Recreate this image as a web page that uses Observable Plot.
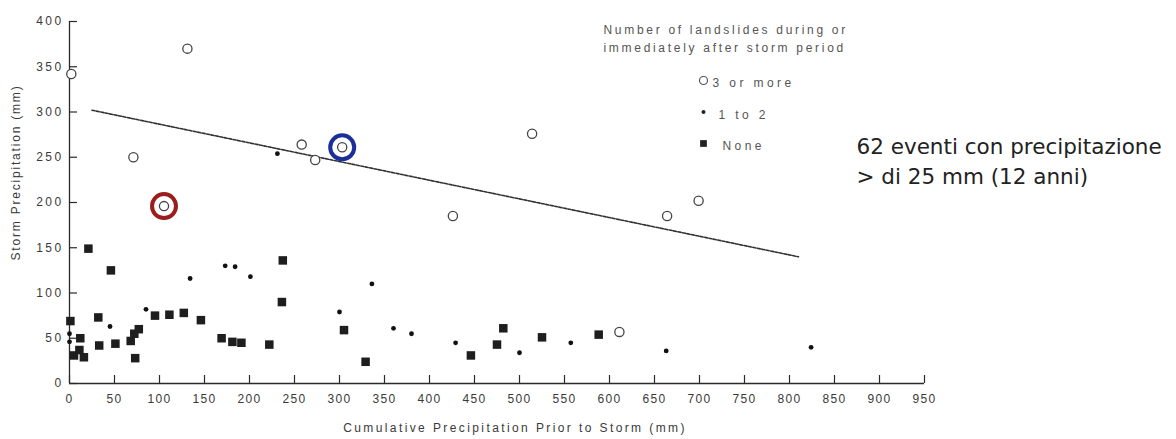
<!DOCTYPE html>
<html><head><meta charset="utf-8">
<script src="https://cdn.jsdelivr.net/npm/d3@7"></script>
<script src="https://cdn.jsdelivr.net/npm/@observablehq/plot@0.6"></script>
<style>
body{margin:0;background:#fff;}
#chart svg{display:block;}
</style></head><body><div id="chart"></div>
<script>
// ---- data ----
const xTicks = [0,50,100,150,200,250,300,350,400,450,500,550,600,650,700,750,800,850,900,950];
const yTicks = [0,50,100,150,200,250,300,350,400];

// 3 or more landslides (open circles)
const manyX = [2,131,71,105,258,273,303,426,514,664,699,611];
const manyY = [342,370,250,196,264,247,261,185,276,185,202,57];

// 1 to 2 landslides (small dots)
const fewX = [231,134,173,184,201,336,300,360,380,429,500,557,663,824,45,85,0,0];
const fewY = [254,116,130,129,118,110,79,61,55,45,34,45,36,40,63,82,55,46];

// None (squares)
const noneX = [21,46,1,32,33,51,12,11,16,5,68,72,77,73,95,111,127,146,169,181,191,222,237,236,305,329,446,475,482,525,588];
const noneY = [149,125,69,73,42,44,50,37,29,31,47,55,60,28,75,76,78,70,50,46,45,43,136,90,59,24,31,43,61,51,54];

// threshold line
const trendX = [25,810];
const trendY = [302,140];

// highlighted events
const hiX = [105,303];
const hiY = [196,261];
const hiColor = ["#9b1d1d","#1c2f98"];

const legendTitle = ["Number of landslides during or","immediately after storm period"];
const legendLabels = ["3 or more","1 to 2","None"];
const xLabel = "Cumulative Precipitation Prior to Storm (mm)";
const yLabel = "Storm Precipitation (mm)";
const note = ["62 eventi con precipitazione","> di 25 mm (12 anni)"];

// ---- build ----
const rows = (xs, ys) => xs.map((x,i)=>({x, y: ys[i]}));
const many = rows(manyX, manyY), few = rows(fewX, fewY), none = rows(noneX, noneY);
const trend = rows(trendX, trendY);
const hi = hiX.map((x,i)=>({x, y: hiY[i], c: hiColor[i]}));

const W=1176, H=439, ML=69, MR=252, MT=21, MB=56;
const FW = W-ML-MR, FH = H-MT-MB;
const ink = "#2a2a2a", txt = "#3a3a3a", leg = "#555";
const tl = (text, dx, dy, o={}) => Plot.text([text], {frameAnchor: "top-left", textAnchor: "start", dx, dy, fontSize: 12, fill: leg, ...o});

const chart = Plot.plot({
  width: W, height: H,
  marginLeft: ML, marginRight: MR, marginTop: MT, marginBottom: MB,
  style: {fontFamily: "'Liberation Sans', Arial, sans-serif", background: "#fff", color: txt},
  x: {domain: [0,950]},
  y: {domain: [0,400]},
  marks: [
    Plot.ruleY([0], {stroke: ink, strokeWidth: 1.3}),
    Plot.ruleX([0], {stroke: ink, strokeWidth: 1.3}),
    Plot.tickX(xTicks, {x: d=>d, stroke: ink, strokeWidth: 1.2, insetTop: FH-8}),
    Plot.tickY(yTicks, {y: d=>d, stroke: ink, strokeWidth: 1.2, insetRight: FW-8}),
    Plot.axisX({ticks: xTicks, tickSize: 0, tickPadding: 11, label: null, fontSize: 12, fill: txt}),
    Plot.axisY({ticks: yTicks, tickSize: 0, tickPadding: 6, label: null, fontSize: 12, fill: txt}),
    Plot.text([xLabel], {frameAnchor: "bottom", dx: 18, dy: 48, fontSize: 12, fill: txt}),
    Plot.text([yLabel], {frameAnchor: "left", textAnchor: "middle", rotate: -90, dx: -53, dy: -30, fontSize: 12, fill: txt}),
    Plot.line(trend, {x: "x", y: "y", stroke: "#333", strokeWidth: 1.6, strokeDasharray: "3,1.5"}),
    Plot.dot(none, {x: "x", y: "y", symbol: "square", r: 4.8, fill: "#1e1e1e"}),
    Plot.dot(few, {x: "x", y: "y", symbol: "circle", r: 2.4, fill: "#111"}),
    Plot.dot(many, {x: "x", y: "y", symbol: "circle", r: 4.6, fill: "#fff", stroke: "#444", strokeWidth: 1.3}),
    Plot.dot(hi, {x: "x", y: "y", r: 12, stroke: "c", strokeWidth: 4, fill: "none"}),
    // legend
    tl(legendTitle[0], 534, 4),
    tl(legendTitle[1], 534, 22),
    tl(legendLabels[0], 643, 57),
    tl(legendLabels[1], 649, 89),
    tl(legendLabels[2], 653, 120),
    Plot.dot([legendLabels[0]], {frameAnchor: "top-left", dx: 634, dy: 59, r: 4, fill: "#fff", stroke: leg, strokeWidth: 1.2}),
    Plot.dot([legendLabels[1]], {frameAnchor: "top-left", dx: 634, dy: 90.5, r: 2, fill: "#222"}),
    Plot.dot([legendLabels[2]], {frameAnchor: "top-left", dx: 634, dy: 122, symbol: "square", r: 3.8, fill: "#222"}),
    // annotation
    tl(note[0], 787, 117, {fontSize: 21.5, fontFamily: "'DejaVu Sans', sans-serif", fill: "#222"}),
    tl(note[1], 787, 147, {fontSize: 21.5, fontFamily: "'DejaVu Sans', sans-serif", fill: "#222"})
  ]
});
document.getElementById("chart").appendChild(chart);

// letter spacing, imitating the scanned lettering
const spacing = new Map([
  [xLabel, 2.4], [yLabel, 1.8],
  [legendTitle[0], 2.7], [legendTitle[1], 2.7],
  [legendLabels[0], 3.4], [legendLabels[1], 3.4], [legendLabels[2], 3.4],
  [note[0], 0], [note[1], 0]
]);
d3.select(chart).selectAll("text").each(function(){
  const s = this.textContent;
  const g = this.closest("g");
  const isY = g && /y-axis/.test(g.getAttribute("aria-label") || "");
  const v = spacing.has(s) ? spacing.get(s) : (isY ? 2.4 : 1.3);
  this.style.letterSpacing = v + "px";
});
</script></body></html>
